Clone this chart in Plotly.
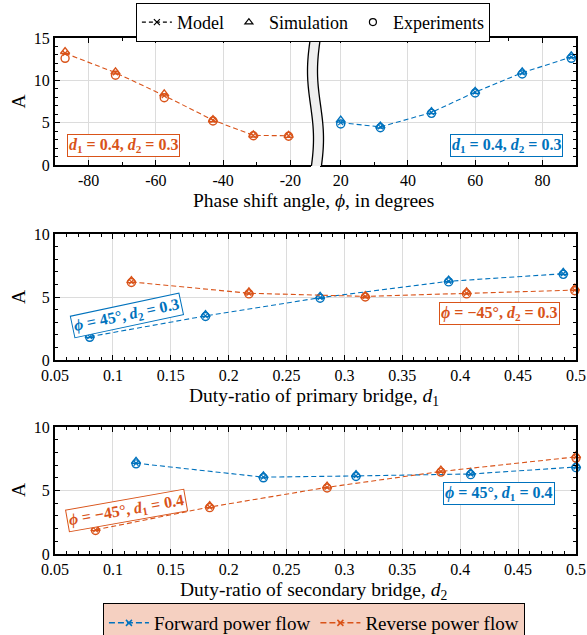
import numpy as np
import plotly.graph_objects as go

BLUE = "#0072BD"
ORANGE = "#D95319"
FONT = "'Liberation Serif', 'DejaVu Serif', serif"

# ---------------- data ----------------
phi_rev = [-87, -72, -57.5, -43, -31, -20.5]
model_phi_rev = [13.2, 10.9, 8.2, 5.3, 3.5, 3.45]
sim_phi_rev = [13.4, 11.0, 8.4, 5.35, 3.55, 3.5]
exp_phi_rev = [12.6, 10.6, 7.95, 5.2, 3.45, 3.4]

phi_fwd = [20, 31.8, 47, 60, 74, 88.6]
model_phi_fwd = [5.0, 4.5, 6.2, 8.6, 10.9, 12.75]
sim_phi_fwd = [5.3, 4.6, 6.3, 8.7, 11.0, 12.9]
exp_phi_fwd = [4.85, 4.4, 6.1, 8.5, 10.75, 12.6]

d1_fwd = [0.08, 0.18, 0.279, 0.39, 0.489]
model_d1_fwd = [1.85, 3.5, 4.95, 6.25, 6.85]
sim_d1_fwd = [1.95, 3.6, 5.05, 6.35, 6.95]
exp_d1_fwd = [1.8, 3.45, 4.9, 6.2, 6.8]

d1_rev = [0.116, 0.2175, 0.318, 0.4055, 0.499]
model_d1_rev = [6.2, 5.3, 5.05, 5.3, 5.55]
sim_d1_rev = [6.3, 5.4, 5.1, 5.4, 5.7]
exp_d1_rev = [6.15, 5.25, 5.0, 5.25, 5.5]

d2_fwd = [0.12, 0.23, 0.31, 0.409, 0.5]
model_d2_fwd = [7.15, 6.05, 6.15, 6.3, 6.85]
sim_d2_fwd = [7.3, 6.15, 6.25, 6.4, 6.95]
exp_d2_fwd = [7.1, 6.0, 6.1, 6.25, 6.8]

d2_rev = [0.085, 0.1836, 0.285, 0.3833, 0.5]
model_d2_rev = [1.9, 3.7, 5.25, 6.5, 7.65]
sim_d2_rev = [2.0, 3.8, 5.35, 6.6, 7.75]
exp_d2_rev = [1.85, 3.65, 5.2, 6.45, 7.55]

phi_ticks = [-80, -60, -40, -20, 20, 40, 60, 80]
phi_ticktext = ["-80", "-60", "-40", "-20", "20", "40", "60", "80"]
d_ticks = [0.05, 0.1, 0.15, 0.2, 0.25, 0.3, 0.35, 0.4, 0.45, 0.5]
d_ticktext = ["0.05", "0.1", "0.15", "0.2", "0.25", "0.3", "0.35", "0.4", "0.45", "0.5"]

fig = go.Figure()

DASH = "5px,3px"


def add_series(x, model, sim, exp, color, xa, ya):
    fig.add_trace(go.Scatter(
        x=x, y=model, mode="lines+markers", xaxis=xa, yaxis=ya,
        line=dict(color=color, width=1.1, dash=DASH),
        marker=dict(symbol="x-thin", size=5, color=color, line=dict(width=1.2, color=color)),
        showlegend=False, cliponaxis=False, hoverinfo="skip"))
    fig.add_trace(go.Scatter(
        x=x, y=sim, mode="markers", xaxis=xa, yaxis=ya,
        marker=dict(symbol="triangle-up-open", size=8, color=color, line=dict(width=1.4, color=color)),
        showlegend=False, cliponaxis=False, hoverinfo="skip"))
    fig.add_trace(go.Scatter(
        x=x, y=exp, mode="markers", xaxis=xa, yaxis=ya,
        marker=dict(symbol="circle-open", size=8, color=color, line=dict(width=1.4, color=color)),
        showlegend=False, cliponaxis=False, hoverinfo="skip"))


add_series(phi_rev, model_phi_rev, sim_phi_rev, exp_phi_rev, ORANGE, "x", "y")
add_series(phi_fwd, model_phi_fwd, sim_phi_fwd, exp_phi_fwd, BLUE, "x2", "y2")
add_series(d1_fwd, model_d1_fwd, sim_d1_fwd, exp_d1_fwd, BLUE, "x3", "y3")
add_series(d1_rev, model_d1_rev, sim_d1_rev, exp_d1_rev, ORANGE, "x3", "y3")
add_series(d2_fwd, model_d2_fwd, sim_d2_fwd, exp_d2_fwd, BLUE, "x4", "y4")
add_series(d2_rev, model_d2_rev, sim_d2_rev, exp_d2_rev, ORANGE, "x4", "y4")

fig.add_trace(go.Scatter(x=[None], y=[None], mode="lines+markers", name="Model",
                         line=dict(color="black", width=1.1, dash="4px,3px"),
                         marker=dict(symbol="x-thin", size=6, color="black", line=dict(width=1.2, color="black")),
                         legend="legend", xaxis="x", yaxis="y"))
fig.add_trace(go.Scatter(x=[None], y=[None], mode="markers", name="Simulation",
                         marker=dict(symbol="triangle-up-open", size=7, color="black", line=dict(width=1.2, color="black")),
                         legend="legend", xaxis="x", yaxis="y"))
fig.add_trace(go.Scatter(x=[None], y=[None], mode="markers", name="Experiments",
                         marker=dict(symbol="circle-open", size=7, color="black", line=dict(width=1.2, color="black")),
                         legend="legend", xaxis="x", yaxis="y"))
fig.add_trace(go.Scatter(x=[None], y=[None], mode="lines+markers", name="Forward power flow",
                         line=dict(color=BLUE, width=1.5, dash="6px,3px"),
                         marker=dict(symbol="x-thin", size=6, color=BLUE, line=dict(width=1.5, color=BLUE)),
                         legend="legend2", xaxis="x", yaxis="y"))
fig.add_trace(go.Scatter(x=[None], y=[None], mode="lines+markers", name="Reverse power flow",
                         line=dict(color=ORANGE, width=1.5, dash="6px,3px"),
                         marker=dict(symbol="x-thin", size=6, color=ORANGE, line=dict(width=1.5, color=ORANGE)),
                         legend="legend2", xaxis="x", yaxis="y"))

# ---------------- layout ----------------
TOP = [0.7539, 1.0]
MID = [0.376, 0.620]
BOT = [0.0, 0.2461]

# broken phase axis: equal scale on both sides of the gap
GAP_L, GAP_R = 0.492, 0.508
PW = 521.0
PH = 516.0
SCALE = PW / 155.0  # px per degree
left_end = -90 + GAP_L * PW / SCALE
right_start = 90 - (1 - GAP_R) * PW / SCALE

common = dict(showline=True, linecolor="black", linewidth=2, ticks="inside", ticklen=5,
              tickwidth=1, tickcolor="black", showgrid=True, gridcolor="#dcdcdc", gridwidth=1,
              zeroline=False, tickfont=dict(family=FONT, size=16, color="black"))


def minor(dt):
    return dict(ticks="inside", ticklen=3, tickcolor="black", tickwidth=1,
                tickmode="linear", tick0=0, dtick=dt, showgrid=False)


fig.update_layout(
    xaxis=dict(**common, domain=[0, GAP_L], range=[-90, left_end], anchor="y", mirror="allticks",
               tickmode="array", tickvals=phi_ticks[:4], ticktext=phi_ticktext[:4], minor=minor(10)),
    xaxis2=dict(**common, domain=[GAP_R, 1], range=[right_start, 90], anchor="y2", mirror="allticks",
                tickmode="array", tickvals=phi_ticks[4:], ticktext=phi_ticktext[4:], minor=minor(10)),
    yaxis=dict(**common, domain=TOP, range=[0, 15], anchor="x", mirror=False,
               tickmode="linear", tick0=0, dtick=5, minor=minor(1)),
    yaxis2=dict(**common, domain=TOP, range=[0, 15], anchor="x2", side="right", mirror=False,
                showticklabels=False, tickmode="linear", tick0=0, dtick=5, minor=minor(1)),
    xaxis3=dict(**common, domain=[0, 1], range=[0.05, 0.5], anchor="y3", mirror="allticks",
                tickmode="array", tickvals=d_ticks, ticktext=d_ticktext, minor=minor(0.01)),
    yaxis3=dict(**common, domain=MID, range=[0, 10], anchor="x3", mirror="allticks",
                tickmode="linear", tick0=0, dtick=5, minor=minor(1)),
    xaxis4=dict(**common, domain=[0, 1], range=[0.05, 0.5], anchor="y4", mirror="allticks",
                tickmode="array", tickvals=d_ticks, ticktext=d_ticktext, minor=minor(0.01)),
    yaxis4=dict(**common, domain=BOT, range=[0, 10], anchor="x4", mirror="allticks",
                tickmode="linear", tick0=0, dtick=5, minor=minor(1)),
    width=587, height=635,
    margin=dict(l=55, r=11, t=38, b=81, autoexpand=False),
    paper_bgcolor="white", plot_bgcolor="white",
    font=dict(family=FONT, size=16, color="black"),
    legend=dict(orientation="h", x=0.495, xanchor="center", y=1.068, yanchor="top",
                bgcolor="white", bordercolor="black", borderwidth=1,
                font=dict(family=FONT, size=18, color="black"), itemwidth=30,
                tracegroupgap=0),
    legend2=dict(orientation="h", x=0.497, xanchor="center", y=-0.095, yanchor="top",
                 bgcolor="#F5D0C1", bordercolor="black", borderwidth=1,
                 font=dict(family=FONT, size=19, color="black"), itemwidth=40),
    showlegend=True,
)

ann_font = dict(family=FONT, size=19.5, color="black")
fig.add_annotation(text="Phase shift angle, <i>ϕ</i>, in degrees", xref="paper", yref="paper",
                   x=0.497, y=0.686, showarrow=False, font=ann_font, yanchor="middle")
fig.add_annotation(text="Duty-ratio of primary bridge, <i>d</i><sub>1</sub>", xref="paper", yref="paper",
                   x=0.497, y=0.305, showarrow=False, font=ann_font, yanchor="middle")
fig.add_annotation(text="Duty-ratio of secondary bridge, <i>d</i><sub>2</sub>", xref="paper", yref="paper",
                   x=0.497, y=-0.071, showarrow=False, font=ann_font, yanchor="middle")
for yc in [0.877, 0.498, 0.124]:
    fig.add_annotation(text="A", xref="paper", yref="paper", x=-0.071, y=yc, textangle=-90,
                       showarrow=False, font=ann_font, xanchor="center", yanchor="middle")

box_font = dict(family=FONT, size=16)


def label(text, x, y, xref, yref, color, angle=0):
    fig.add_annotation(text=text, x=x, y=y, xref=xref, yref=yref, showarrow=False,
                       textangle=angle, font=dict(**box_font, color=color),
                       bordercolor=color, borderwidth=1, borderpad=1, bgcolor="white")


label("<b><i>d</i><sub>1</sub> = 0.4, <i>d</i><sub>2</sub> = 0.3</b>", -69.5, 2.25, "x", "y", ORANGE)
label("<b><i>d</i><sub>1</sub> = 0.4, <i>d</i><sub>2</sub> = 0.3</b>", 69.3, 2.25, "x2", "y2", BLUE)
label("<b><i>ϕ</i> = 45°, <i>d</i><sub>2</sub> = 0.3</b>", 0.112, 3.5, "x3", "y3", BLUE, -12)
label("<b><i>ϕ</i> = −45°, <i>d</i><sub>2</sub> = 0.3</b>", 0.4336, 3.73, "x3", "y3", ORANGE)
label("<b><i>ϕ</i> = −45°, <i>d</i><sub>1</sub> = 0.4</b>", 0.112, 3.46, "x4", "y4", ORANGE, -10)
label("<b><i>ϕ</i> = 45°, <i>d</i><sub>1</sub> = 0.4</b>", 0.4336, 4.8, "x4", "y4", BLUE)

# axis break symbol (wavy band)
xc = (GAP_L + GAP_R) / 2
half = 5.0 / PW
amp = 3.0 / PW
y0 = TOP[0] - 1.0 / PH
y1 = TOP[1] + 1.0 / PH
t = np.linspace(0, 1, 40)
yy = y1 - (y1 - y0) * t
left = xc - half - amp * np.sin(2 * np.pi * t * 0.95)
right = xc + half - amp * np.sin(2 * np.pi * t * 0.95)


def pstr(xs, ys):
    return "M " + " L ".join(f"{a:.5f},{b:.5f}" for a, b in zip(xs, ys))


fill_path = pstr(np.concatenate([left, right[::-1]]), np.concatenate([yy, yy[::-1]])) + " Z"
fig.add_shape(type="path", path=fill_path, xref="paper", yref="paper",
              fillcolor="#efefef", line=dict(width=0), layer="above")
for edge in (left, right):
    fig.add_shape(type="path", path=pstr(edge, yy), xref="paper", yref="paper",
                  fillcolor="rgba(0,0,0,0)", line=dict(color="black", width=1.3), layer="above")

fig.write_html("out.html", config={"displayModeBar": False},
               post_script="document.body.style.margin='0px';")
